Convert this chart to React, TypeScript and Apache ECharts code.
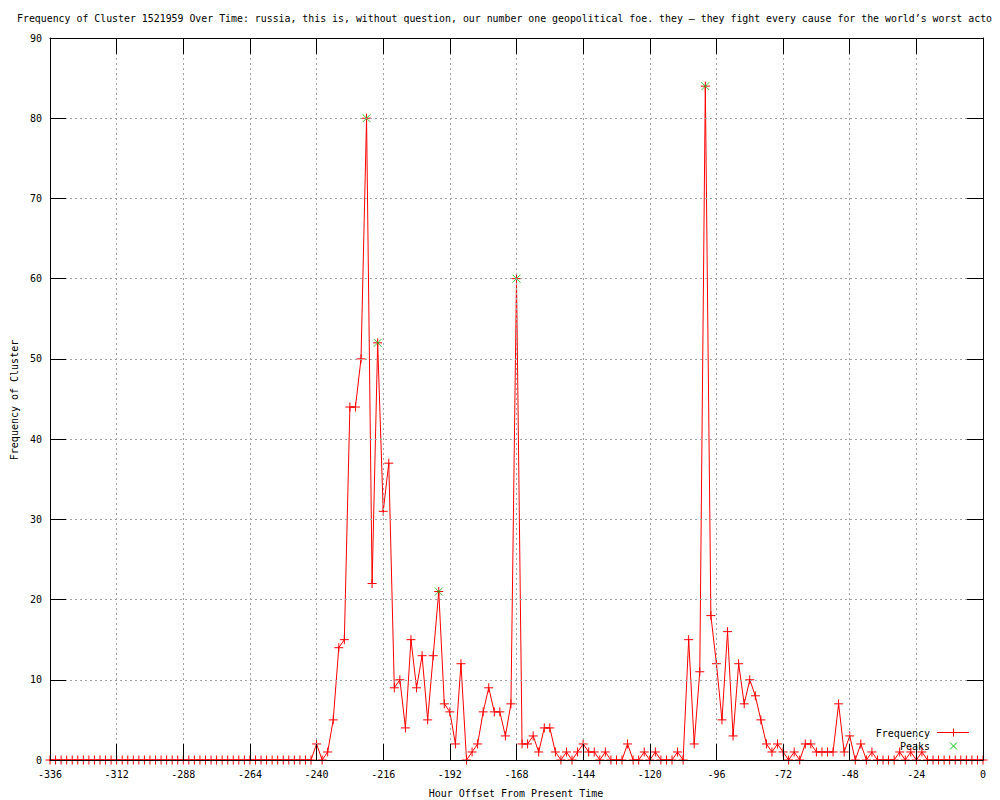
import React, { useEffect, useRef } from "react";
import * as echarts from "echarts";

// Hour offsets run from -336 to 0 in steps of 2 hours
const HOUR_START = -336;
const HOUR_STEP = 2;

const X_TICKS = { min: -336, max: 0, interval: 24 };
const Y_TICKS = { min: 0, max: 90, interval: 10 };

// Frequency values, -336 .. 0 (every 2 hours)
const freqQuiet = [
  0, 0, 0, 0, 0, 0, 0, 0, 0, 0, 0, 0,
  0, 0, 0, 0, 0, 0, 0, 0, 0, 0, 0, 0,
  0, 0, 0, 0, 0, 0, 0, 0, 0, 0, 0, 0,
  0, 0, 0, 0, 0, 0, 0, 0, 0, 0, 0, 0,
]; // -336 .. -242
const freqActive = [
  2, 0, 1, 5, 14, 15, 44, 44, 50, 80, // -240 .. -222
  22, 52, 31, 37, 9, 10, 4, 15, 9, 13, // -220 .. -202
  5, 13, 21, 7, 6, 2, 12, 0, 1, 2, // -200 .. -182
  6, 9, 6, 6, 3, 7, 60, 2, 2, 3, // -180 .. -162
  1, 4, 4, 1, 0, 1, 0, 1, 2, 1, // -160 .. -142
  1, 0, 1, 0, 0, 0, 2, 0, 0, 1, // -140 .. -122
  0, 1, 0, 0, 0, 1, 0, 15, 2, 11, // -120 .. -102
  84, 18, 12, 5, 16, 3, 12, 7, 10, 8, // -100 .. -82
  5, 2, 1, 2, 1, 0, 1, 0, 2, 2, // -80 .. -62
  1, 1, 1, 1, 7, 1, 3, 0, 2, 0, // -60 .. -42
  1, 0, 0, 0, 0, 1, 0, 1, 0, 1, 0, // -40 .. -20
];
const freqTail = [0, 0, 0, 0, 0, 0, 0, 0, 0, 0]; // -18 .. 0

const frequency = [...freqQuiet, ...freqActive, ...freqTail];

const peakHours = [-222, -218, -196, -168, -100];
const peakValues = [80, 52, 21, 60, 84];

const TITLE =
  "Frequency of Cluster 1521959 Over Time: russia, this is, without question, our number one geopolitical foe. they \u2013 they fight every cause for the world\u2019s worst acto";
const X_NAME = "Hour Offset From Present Time";
const Y_NAME = "Frequency of Cluster";
const LEGEND_NAMES = ["Frequency", "Peaks"];

const FONT = '"DejaVu Sans Mono", monospace';
const RED = "#ff0000";
const GREEN = "#00c000";
const GRID = "#a0a0a0";

const PLUS = "path://M0,4L8,4M4,0L4,8";
const CROSS = "path://M0,0L8,8M8,0L0,8";

const mkLine = () => ({ show: true, onZero: false, lineStyle: { color: "#000", width: 1 } });
const mkTick = () => ({
  show: true,
  inside: true,
  length: 16,
  lineStyle: { color: "#000", width: 1, type: "solid" as const },
});
const mkSplit = () => ({ show: true, lineStyle: { color: GRID, width: 1, type: [2, 3] } });
const mkLabel = (margin: number) => ({
  show: true,
  color: "#000",
  fontFamily: FONT,
  fontSize: 10,
  margin,
});

export default function App() {
  const ref = useRef<HTMLDivElement>(null);

  useEffect(() => {
    if (!ref.current) return;
    const chart = echarts.init(ref.current, null, { renderer: "svg" });

    const freqData = frequency.map((v, i) => [HOUR_START + i * HOUR_STEP, v]);
    const peakData = peakHours.map((h, i) => [h, peakValues[i]]);

    chart.setOption({
      animation: false,
      backgroundColor: "#fff",
      grid: { left: 50, right: 17, top: 38, bottom: 40, containLabel: false },
      xAxis: [
        {
          type: "value",
          position: "bottom",
          ...X_TICKS,
          axisLine: mkLine(),
          axisTick: mkTick(),
          splitLine: mkSplit(),
          axisLabel: mkLabel(9),
          z: 5,
        },
        {
          type: "value",
          position: "top",
          ...X_TICKS,
          axisLine: mkLine(),
          axisTick: mkTick(),
          splitLine: { show: false },
          axisLabel: { show: false },
          z: 5,
        },
      ],
      yAxis: [
        {
          type: "value",
          position: "left",
          ...Y_TICKS,
          axisLine: mkLine(),
          axisTick: mkTick(),
          splitLine: mkSplit(),
          axisLabel: mkLabel(8),
          z: 5,
        },
        {
          type: "value",
          position: "right",
          ...Y_TICKS,
          axisLine: mkLine(),
          axisTick: mkTick(),
          splitLine: { show: false },
          axisLabel: { show: false },
          z: 5,
        },
      ],
      series: [
        {
          name: LEGEND_NAMES[0],
          type: "line",
          data: freqData,
          xAxisIndex: 0,
          yAxisIndex: 0,
          symbol: PLUS,
          symbolSize: 9,
          showAllSymbol: true,
          lineStyle: { color: RED, width: 1 },
          itemStyle: { color: RED, borderColor: RED, borderWidth: 1 },
          z: 3,
        },
        {
          name: LEGEND_NAMES[1],
          type: "scatter",
          data: peakData,
          xAxisIndex: 0,
          yAxisIndex: 0,
          symbol: CROSS,
          symbolSize: 8,
          itemStyle: { color: GREEN, borderColor: GREEN, borderWidth: 1 },
          z: 4,
        },
      ],
      graphic: [
        {
          type: "text",
          left: 17,
          top: 13,
          style: { text: TITLE, fill: "#000", fontFamily: FONT, fontSize: 9.9 },
        },
        {
          type: "text",
          x: 516,
          y: 793,
          style: {
            text: X_NAME,
            fill: "#000",
            fontFamily: FONT,
            fontSize: 10,
            align: "center",
            verticalAlign: "middle",
          },
        },
        {
          type: "text",
          x: 14,
          y: 400,
          rotation: Math.PI / 2,
          style: {
            text: Y_NAME,
            fill: "#000",
            fontFamily: FONT,
            fontSize: 10,
            align: "center",
            verticalAlign: "middle",
          },
        },
        {
          type: "text",
          x: 930,
          y: 733,
          style: {
            text: LEGEND_NAMES[0],
            fill: "#000",
            fontFamily: FONT,
            fontSize: 10,
            align: "right",
            verticalAlign: "middle",
          },
        },
        {
          type: "line",
          shape: { x1: 937, y1: 732.5, x2: 969, y2: 732.5 },
          style: { stroke: RED, lineWidth: 1 },
        },
        {
          type: "line",
          shape: { x1: 953.5, y1: 728.5, x2: 953.5, y2: 736.5 },
          style: { stroke: RED, lineWidth: 1 },
        },
        {
          type: "text",
          x: 930,
          y: 746,
          style: {
            text: LEGEND_NAMES[1],
            fill: "#000",
            fontFamily: FONT,
            fontSize: 10,
            align: "right",
            verticalAlign: "middle",
          },
        },
        {
          type: "line",
          shape: { x1: 950, y1: 742.5, x2: 957, y2: 749.5 },
          style: { stroke: GREEN, lineWidth: 1 },
        },
        {
          type: "line",
          shape: { x1: 957, y1: 742.5, x2: 950, y2: 749.5 },
          style: { stroke: GREEN, lineWidth: 1 },
        },
      ],
    });

    return () => chart.dispose();
  }, []);

  return (
    <div
      ref={ref}
      style={{ position: "absolute", left: 0, top: 0, width: 1000, height: 800 }}
    />
  );
}
